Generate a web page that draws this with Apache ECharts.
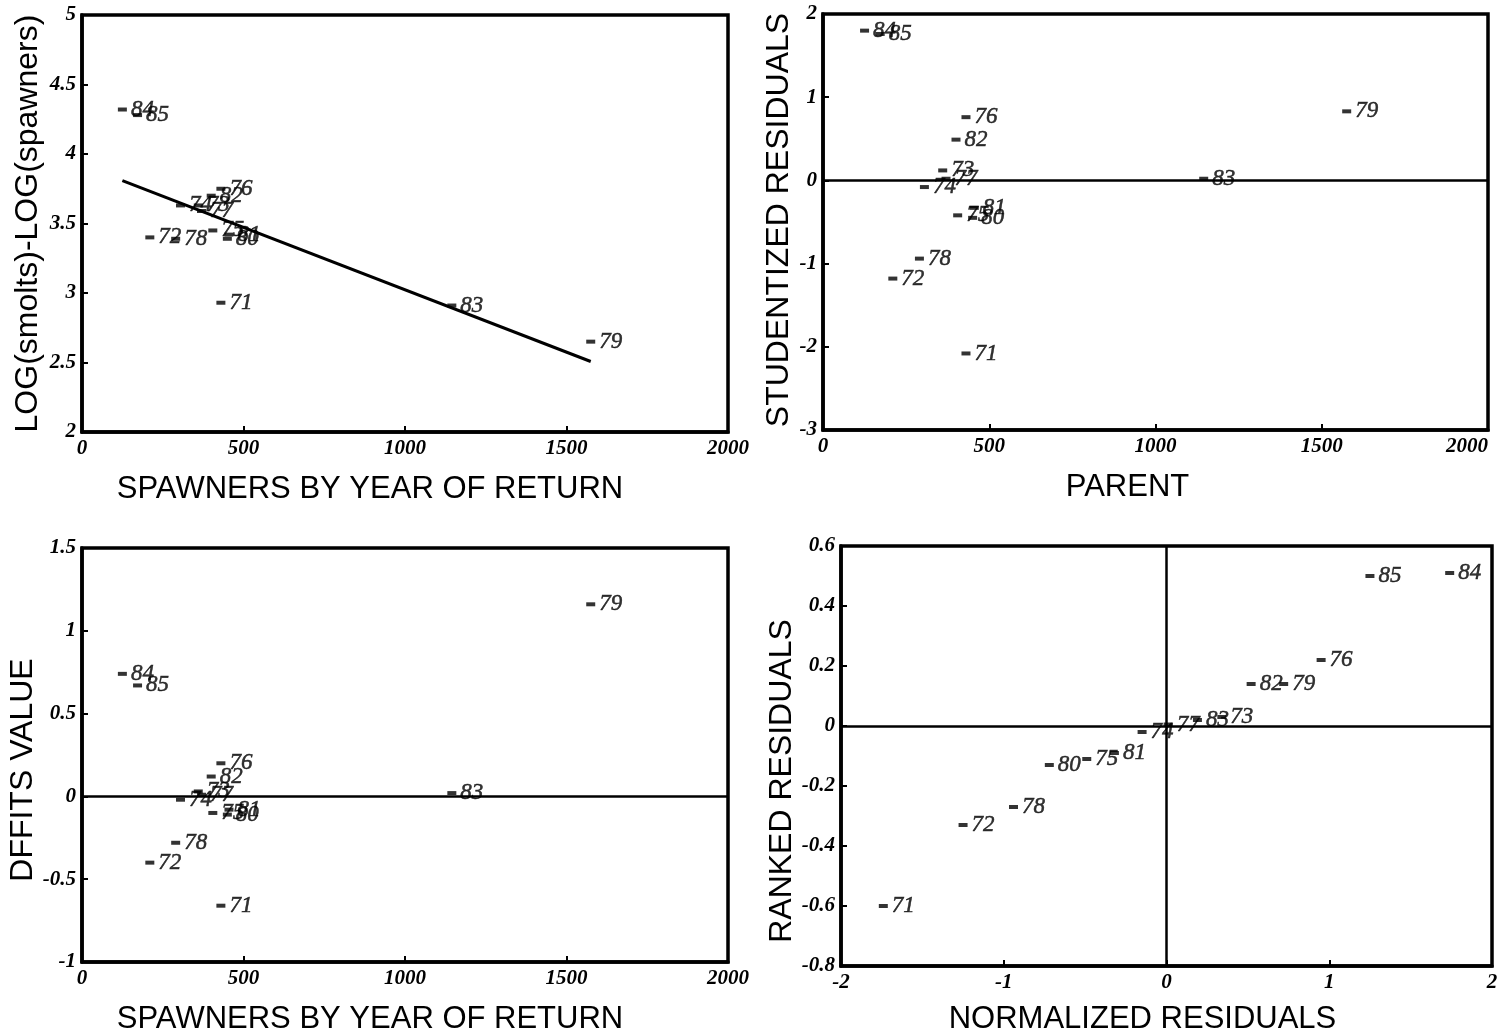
<!DOCTYPE html>
<html><head><meta charset="utf-8">
<script src="https://cdn.jsdelivr.net/npm/echarts@6/dist/echarts.min.js"></script>
<style>html,body{margin:0;padding:0;background:#fff;overflow:hidden}#c{width:1507px;height:1032px}</style>
</head><body><div id="c"></div>
<script>
// ---- data (years 1971-1985) ----
const years     = ['71','72','73','74','75','76','77','78','79','80','81','82','83','84','85'];
const spawners  = [430, 210, 360, 305, 405, 430, 370, 290, 1575, 450, 455, 400, 1145, 125, 172];
const logRatio  = [2.93, 3.40, 3.63, 3.63, 3.45, 3.75, 3.59, 3.39, 2.65, 3.39, 3.42, 3.70, 2.91, 4.32, 4.28];
const studRes   = [-2.08, -1.18, 0.12, -0.08, -0.42, 0.76, 0.02, -0.94, 0.83, -0.45, -0.33, 0.49, 0.02, 1.80, 1.76];
const dffits    = [-0.66, -0.40, 0.03, -0.02, -0.10, 0.20, 0.01, -0.28, 1.16, -0.11, -0.08, 0.12, 0.02, 0.74, 0.67];
const normRes   = [-1.74, -1.25, 0.34, -0.15, -0.49, 0.95, 0.01, -0.94, 0.72, -0.72, -0.32, 0.52, 0.19, 1.74, 1.25];
const rankedRes = [-0.60, -0.33, 0.03, -0.02, -0.11, 0.22, 0.005, -0.27, 0.14, -0.13, -0.09, 0.14, 0.02, 0.51, 0.50];
// fitted regression line of logRatio on spawners
const fitIntercept = 3.92;
const fitSlope = -0.000897;

// ---- titles / axis ranges ----
const xNames = ['SPAWNERS BY YEAR OF RETURN', 'PARENT', 'SPAWNERS BY YEAR OF RETURN', 'NORMALIZED RESIDUALS'];
const yNames = ['LOG(smolts)-LOG(spawners)', 'STUDENTIZED RESIDUALS', 'DFFITS VALUE', 'RANKED RESIDUALS'];
const xRanges = [[0, 2000, 500], [0, 2000, 500], [0, 2000, 500], [-2, 2, 1]];
const yRanges = [[2, 5, 0.5], [-3, 2, 1], [-1, 1.5, 0.5], [-0.8, 0.6, 0.2]];

const chart = echarts.init(document.getElementById('c'), null, {renderer: 'canvas'});

const grids = [
  {left: 82, top: 15, width: 646, height: 417},
  {left: 823, top: 14, width: 665, height: 416},
  {left: 82, top: 548, width: 646, height: 414},
  {left: 841, top: 546, width: 651, height: 420}
];
const xNameGaps = [42, 42, 42, 38];
const yNameGaps = [38, 18, 38, 36];
// name paddings (shift titles off the panel centre as in the original)
const xNamePads = [[0, 70, 0, 0], [0, 56, 0, 0], [0, 70, 0, 0], [0, 48, 0, 0]];
const yNamePads = [[0, 0, 0, 0], [0, 0, 0, 4], [0, 30, 0, 0], [0, 50, 0, 0]];
const xMaxLabelAlign = [undefined, 'right', undefined, undefined];

function fmt(v) { return String(+(+v).toFixed(2)); }

const tickFont = {fontFamily: 'Liberation Serif', fontStyle: 'italic', fontWeight: 'bold', fontSize: 21, color: '#000'};
const xNameFont = {fontFamily: 'Liberation Sans', fontSize: 31, color: '#000'};
const yNameFont = {fontFamily: 'Liberation Sans', fontSize: 32, color: '#000'};

const xAxes = xRanges.map((r, i) => ({
  type: 'value', gridIndex: i, min: r[0], max: r[1], interval: r[2],
  name: xNames[i], nameLocation: 'middle', nameGap: xNameGaps[i],
  nameTextStyle: Object.assign({padding: xNamePads[i]}, xNameFont),
  axisLine: {show: true, onZero: false, lineStyle: {color: '#000', width: 3.5}},
  axisTick: {show: true, inside: true, length: 6, lineStyle: {color: '#000', width: 2}},
  axisLabel: Object.assign({margin: 6, formatter: fmt, alignMaxLabel: xMaxLabelAlign[i]}, tickFont),
  splitLine: {show: false}
}));
const yAxes = yRanges.map((r, i) => ({
  type: 'value', gridIndex: i, min: r[0], max: r[1], interval: r[2],
  name: yNames[i], nameLocation: 'middle', nameGap: yNameGaps[i],
  nameTextStyle: Object.assign({padding: yNamePads[i]}, yNameFont),
  axisLine: {show: true, onZero: false, lineStyle: {color: '#000', width: 3.5}},
  axisTick: {show: true, inside: true, length: 6, lineStyle: {color: '#000', width: 2}},
  axisLabel: Object.assign({margin: 6, formatter: fmt}, tickFont),
  splitLine: {show: false}
}));

function pts(xs, ys) {
  return years.map((y, k) => ({name: y, value: [xs[k], ys[k]]}));
}
const ptLabel = {
  show: true, position: 'right', distance: 4, formatter: p => p.name,
  fontFamily: 'Liberation Serif', fontStyle: 'italic', fontSize: 23, color: '#000',
  textBorderColor: '#000', textBorderWidth: 0.5
};
function scatter(i, xs, ys, extra) {
  return Object.assign({
    type: 'scatter', xAxisIndex: i, yAxisIndex: i,
    data: pts(xs, ys), symbol: 'rect', symbolSize: [9, 4],
    itemStyle: {color: '#000'}, label: ptLabel, silent: true, z: 3
  }, extra || {});
}
const zeroLine = {color: '#000', width: 2.5, type: 'solid'};
function mark(lines) {
  return {silent: true, symbol: 'none', label: {show: false}, lineStyle: zeroLine, data: lines, animation: false};
}

const xMin = Math.min(...spawners), xMax = Math.max(...spawners);
const fitData = [[xMin, fitIntercept + fitSlope * xMin], [xMax, fitIntercept + fitSlope * xMax]];

chart.setOption({
  animation: false,
  backgroundColor: '#fff',
  grid: grids.map(g => Object.assign({show: true, borderColor: '#000', borderWidth: 3.5, backgroundColor: 'transparent',
                                      containLabel: false, outerBoundsMode: 'none'}, g)),
  xAxis: xAxes,
  yAxis: yAxes,
  series: [
    scatter(0, spawners, logRatio),
    {type: 'line', xAxisIndex: 0, yAxisIndex: 0, data: fitData, symbol: 'none',
     lineStyle: {color: '#000', width: 3}, silent: true, z: 2},
    scatter(1, spawners, studRes, {markLine: mark([{yAxis: 0}])}),
    scatter(2, spawners, dffits, {markLine: mark([{yAxis: 0}])}),
    scatter(3, normRes, rankedRes, {markLine: mark([{yAxis: 0}, {xAxis: 0}])})
  ]
});
</script></body></html>
